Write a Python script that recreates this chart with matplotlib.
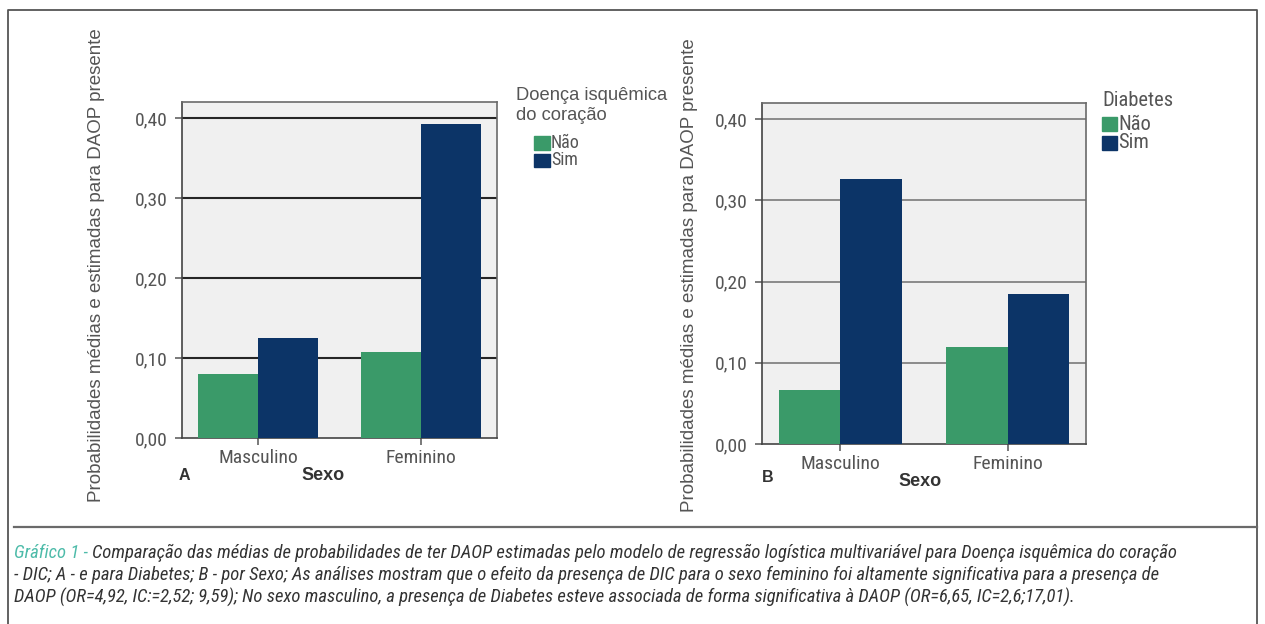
import matplotlib
matplotlib.use("Agg")
import matplotlib.pyplot as plt
from matplotlib import font_manager
from matplotlib.patches import Rectangle
from matplotlib.lines import Line2D

# ---------------- data ----------------
categories = ["Masculino", "Feminino"]
series_labels = ["Não", "Sim"]
a_nao = [0.080, 0.107]
a_sim = [0.125, 0.392]
b_nao = [0.067, 0.119]
b_sim = [0.326, 0.185]
y_ticks = [0.0, 0.1, 0.2, 0.3, 0.4]
y_ticklabels = ["0,00", "0,10", "0,20", "0,30", "0,40"]
legend_title_a = "Doença isquêmica\ndo coração"
legend_title_b = "Diabetes"
ylabel = "Probabilidades médias e estimadas para DAOP presente"
xlabel = "Sexo"
caption_head = "Gráfico 1 - "
caption_lines = [
    "Comparação das médias de probabilidades de ter DAOP estimadas pelo modelo de regressão logística multivariável para Doença isquêmica do coração",
    "- DIC; A - e para Diabetes; B - por Sexo; As análises mostram que o efeito da presença de DIC para o sexo feminino foi altamente significativa para a presença de",
    "DAOP (OR=4,92, IC:=2,52; 9,59); No sexo masculino, a presença de Diabetes esteve associada de forma significativa à DAOP (OR=6,65, IC=2,6;17,01).",
]

W, H = 1265, 624
GREEN = "#3a9a69"
NAVY = "#0c3467"
BG = "#f0f0f0"
TXT = "#555555"

flist = font_manager.fontManager.ttflist
names = {f.name for f in flist}
SANS = "Liberation Sans" if "Liberation Sans" in names else "DejaVu Sans"


def pick_narrow():
    for nm in ["Liberation Sans Narrow", "Arial Narrow", "Roboto Condensed",
               "Noto Sans Condensed", "DejaVu Sans Condensed", "Open Sans Condensed"]:
        if nm in names:
            return dict(family=nm)
    for base in ["Noto Sans", "Roboto", "DejaVu Sans", "Open Sans", "Liberation Sans"]:
        for f in flist:
            if f.name == base and str(f.stretch) in ("condensed", "semi-condensed", "600", "700"):
                return dict(family=base, stretch="condensed")
    return dict(family=SANS)


NARROW = pick_narrow()

fig = plt.figure(figsize=(W / 100, H / 100), dpi=100)
fig.patch.set_facecolor("white")


def fx(x):
    return x / W


def fy(y):
    return 1 - y / H


def axes_px(l, t, r, b):
    return fig.add_axes([fx(l), fy(b), (r - l) / W, (b - t) / H])


def style_axes(ax, nao, sim, gridcol, gridlw):
    ax.set_facecolor(BG)
    x = list(range(len(categories)))
    w = 0.37
    ax.bar([i - w / 2 for i in x], nao, width=w, color=GREEN, zorder=3)
    ax.bar([i + w / 2 for i in x], sim, width=w, color=NAVY, zorder=3)
    ax.set_xlim(-0.47, 1.47)
    ax.set_ylim(0, 0.42)
    ax.set_yticks(y_ticks)
    ax.set_yticklabels(y_ticklabels, fontsize=14, color=TXT, **NARROW)
    ax.set_xticks(x)
    ax.set_xticklabels(categories, fontsize=14, color=TXT, **NARROW)
    for t in y_ticks[1:]:
        ax.axhline(t, color=gridcol, lw=gridlw, zorder=1)
    ax.tick_params(axis="both", length=5, width=1.1, color="#555555", pad=3)
    ax.tick_params(axis="y", pad=5)
    for s in ax.spines.values():
        s.set_color("#6a6a6a")
        s.set_linewidth(1.2)
    ax.spines["bottom"].set_color("#444444")
    ax.spines["left"].set_color("#444444")


axA = axes_px(182, 102, 497, 438)
style_axes(axA, a_nao, a_sim, "#262626", 1.5)
axB = axes_px(762, 103, 1086, 444)
style_axes(axB, b_nao, b_sim, "#7a7a7a", 1.2)

fig.canvas.draw()
renderer = fig.canvas.get_renderer()


def fit(t, target):
    for _ in range(3):
        w = t.get_window_extent(renderer).width
        t.set_fontsize(t.get_fontsize() * target / w)


# y labels
yla = fig.text(fx(97), fy(265), ylabel, rotation=90, ha="center", va="center",
               fontfamily=SANS, fontsize=14, color=TXT)
ylb = fig.text(fx(689), fy(275), ylabel, rotation=90, ha="center", va="center",
               fontfamily=SANS, fontsize=14, color=TXT)
for t in (yla, ylb):
    t.set_rotation(0)
    fit(t, 472)
    t.set_rotation(90)

# panel letters and x labels
fig.text(fx(179), fy(476), "A", ha="left", va="center", fontfamily=SANS,
         fontweight="bold", fontsize=11.5, color="#333333")
fig.text(fx(323), fy(476), xlabel, ha="center", va="center", fontfamily=SANS,
         fontweight="bold", fontsize=13, color="#333333")
fig.text(fx(762), fy(478), "B", ha="left", va="center", fontfamily=SANS,
         fontweight="bold", fontsize=11.5, color="#333333")
fig.text(fx(920), fy(481), xlabel, ha="center", va="center", fontfamily=SANS,
         fontweight="bold", fontsize=13, color="#333333")

# legends (manual, SPSS style)
la1, la2 = legend_title_a.split("\n")
t1 = fig.text(fx(516), fy(95), la1, ha="left", va="center", fontfamily=SANS,
              fontsize=13, color=TXT)
fit(t1, 151)
fs_leg = t1.get_fontsize()
fig.text(fx(516), fy(115), la2, ha="left", va="center", fontfamily=SANS,
         fontsize=fs_leg, color=TXT)
colors = [GREEN, NAVY]
for i, (lab, c) in enumerate(zip(series_labels, colors)):
    yc = 143 + i * 17
    fig.patches.append(Rectangle((fx(534), fy(yc + 6.5)), 16 / W, 13 / H,
                                 transform=fig.transFigure, color=c))
    fig.text(fx(551), fy(yc), lab, ha="left", va="center",
             fontsize=13, color=TXT, **NARROW)

t2 = fig.text(fx(1102), fy(101), legend_title_b, ha="left", va="center",
              fontsize=14, color=TXT, **NARROW)
fit(t2, 71)
for i, (lab, c) in enumerate(zip(series_labels, colors)):
    yc = 124 + i * 19
    fig.patches.append(Rectangle((fx(1102), fy(yc + 7)), 15 / W, 14 / H,
                                 transform=fig.transFigure, color=c))
    fig.text(fx(1118), fy(yc), lab, ha="left", va="center",
             fontsize=t2.get_fontsize(), color=TXT, **NARROW)

# outer frame and separator
fig.lines.append(Line2D([fx(8), fx(8), fx(1257), fx(1257)],
                        [fy(630), fy(10), fy(10), fy(630)],
                        transform=fig.transFigure, color="#555555", lw=1.3))
fig.lines.append(Line2D([fx(14), fx(1257)], [fy(527), fy(527)],
                        transform=fig.transFigure, color="#6a6a6a", lw=1.6))

# caption
cap_kw = dict(fontstyle="italic", fontsize=10, va="center", **NARROW)
h = fig.text(fx(14), fy(553), caption_head, color="#4dbba9", ha="left", **cap_kw)
r = fig.text(fx(80), fy(553), caption_lines[0], color="#333333", ha="left", **cap_kw)
for _ in range(3):
    wh = h.get_window_extent(renderer).width
    wr = r.get_window_extent(renderer).width
    s = 1167 / (wh + wr)
    h.set_fontsize(h.get_fontsize() * s)
    r.set_fontsize(r.get_fontsize() * s)
wh = h.get_window_extent(renderer).width
r.set_position((fx(14 + wh), fy(553)))
fs_cap = r.get_fontsize()
l2 = fig.text(fx(14), fy(575), caption_lines[1], color="#333333", ha="left", **cap_kw)
l2.set_fontsize(fs_cap)
w2 = l2.get_window_extent(renderer).width
if w2 > 1167:
    l2.set_fontsize(fs_cap * 1167 / w2)
l3 = fig.text(fx(14), fy(597), caption_lines[2], color="#333333", ha="left", **cap_kw)
l3.set_fontsize(fs_cap)

fig.savefig("out.png", dpi=100)
